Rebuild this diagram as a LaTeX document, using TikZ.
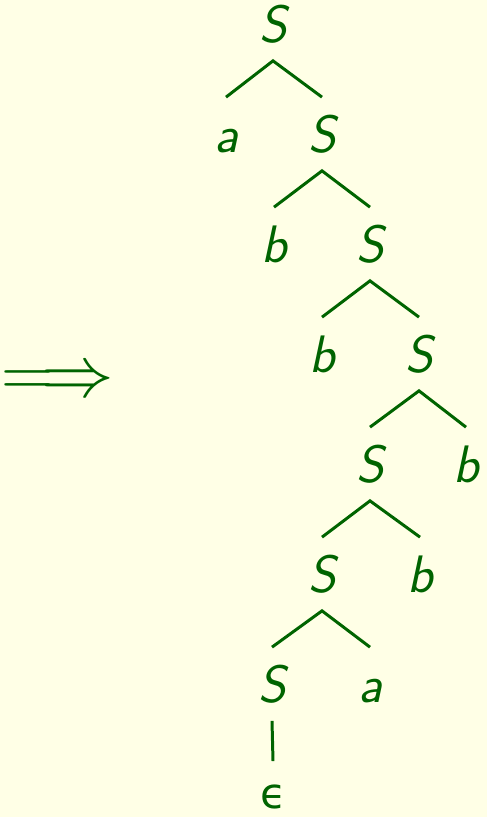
\documentclass[tikz,border=0pt]{standalone}
\usepackage{fontspec}
\usepackage{tikz}
\usetikzlibrary{arrows.meta}
\newfontfamily\greekfont{DejaVu Sans}
\definecolor{treegreen}{RGB}{0,100,0}
\definecolor{paper}{RGB}{255,255,230}

\begin{document}
\begin{tikzpicture}[
    sym/.style={font=\fontsize{30}{36}\selectfont\sffamily\slshape, text=treegreen,
        text height=0.74cm, text depth=0pt, inner xsep=0pt, inner ysep=0.36cm},
    branch/.style={draw=treegreen, line width=1.7pt}]
        \fill [paper] (0,0) rectangle (9.74,-16.34);
        \useasboundingbox (0,0) rectangle (9.74,-16.34);
        % derivation arrow
        \node (arr) [anchor=west, inner sep=0pt, text=treegreen, scale=1.66,
            font=\fontsize{24.88}{30}\selectfont] at (0.02,-7.66) {$\Longrightarrow$};
        % the tree, one level per row
        \node (s0) [sym] at (5.46,-0.48) {S};
        \node (a1) [sym] at (4.52,-2.68) {a};
        \node (s1) [sym] at (6.44,-2.68) {S};
        \node (b2) [sym] at (5.48,-4.88) {b};
        \node (s2) [sym] at (7.40,-4.88) {S};
        \node (b3) [sym] at (6.44,-7.08) {b};
        \node (s3) [sym] at (8.38,-7.08) {S};
        \node (s4) [sym] at (7.40,-9.28) {S};
        \node (b4) [sym] at (9.32,-9.28) {b};
        \node (s5) [sym] at (6.44,-11.48) {S};
        \node (b5) [sym] at (8.40,-11.48) {b};
        \node (s6) [sym] at (5.44,-13.68) {S};
        \node (a6) [sym] at (7.40,-13.68) {a};
        \node (eps) [sym, inner ysep=0.2cm] at (5.46,-15.8)
            {\fontsize{24}{30}\selectfont\greekfont\upshape ϵ};
        % branches
        \draw [branch] (a1.north) -- (s0.south) -- (s1.north);
        \draw [branch] (b2.north) -- (s1.south) -- (s2.north);
        \draw [branch] (b3.north) -- (s2.south) -- (s3.north);
        \draw [branch] (s4.north) -- (s3.south) -- (b4.north);
        \draw [branch] (s5.north) -- (s4.south) -- (b5.north);
        \draw [branch] (s6.north) -- (s5.south) -- (a6.north);
        \draw [branch] (s6.south) -- (eps.north);
    \end{tikzpicture}
\end{document}
